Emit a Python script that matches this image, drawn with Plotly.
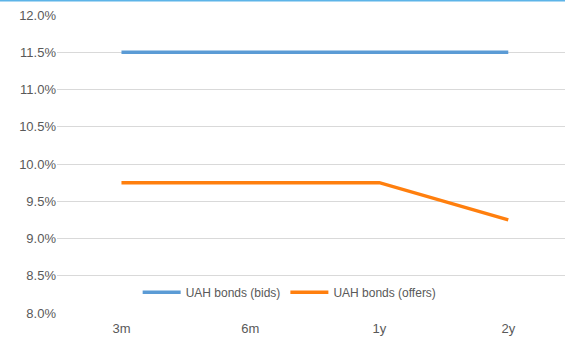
import plotly.graph_objects as go

tenors = ["3m", "6m", "1y", "2y"]
bids = [11.5, 11.5, 11.5, 11.5]
offers = [9.75, 9.75, 9.75, 9.25]

fig = go.Figure()
fig.add_trace(go.Scatter(x=tenors, y=bids, mode="lines", name="UAH bonds (bids)",
                         line=dict(color="#5B9BD5", width=3.5)))
fig.add_trace(go.Scatter(x=tenors, y=offers, mode="lines", name="UAH bonds (offers)",
                         line=dict(color="#FF7F0E", width=3.5)))

fig.update_layout(
    width=565, height=344,
    margin=dict(l=57, r=0, t=15, b=31),
    paper_bgcolor="white", plot_bgcolor="white",
    font=dict(family="Liberation Sans, Arial", size=13, color="#595959"),
    showlegend=True,
    legend=dict(orientation="h", x=0.458, xanchor="center", y=0.07, yanchor="middle",
                bgcolor="rgba(0,0,0,0)", font=dict(size=12, color="#595959"),
                itemwidth=38, tracegroupgap=0),
    xaxis=dict(type="category", range=[-0.5, 3.44], showgrid=False, zeroline=False,
               showline=False, ticks="", ticklabelstandoff=6,
               tickfont=dict(size=13, color="#595959")),
    yaxis=dict(range=[8, 12], dtick=0.5, tickformat=".1f", ticksuffix="%",
               showgrid=True, gridcolor="#D9D9D9", gridwidth=1, zeroline=False,
               showline=False, ticks="", tickfont=dict(size=13, color="#595959")),
)
# thin accent rule along the top edge of the page
fig.add_shape(type="line", xref="paper", yref="paper", x0=-0.2, x1=1.0,
              y0=1.049, y1=1.049, line=dict(color="#5DB4E8", width=2))

fig.write_html("out.html")
